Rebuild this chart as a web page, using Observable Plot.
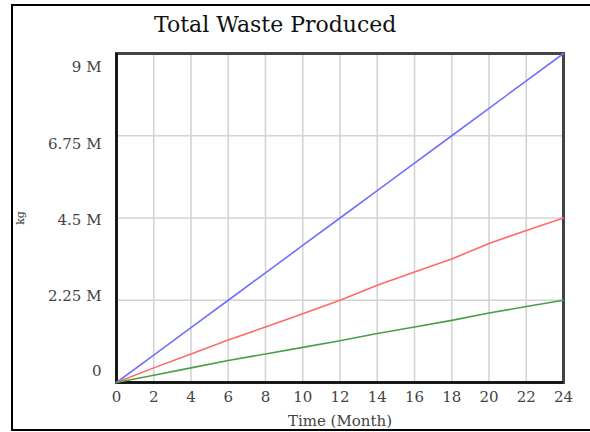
<!DOCTYPE html>
<html>
<head>
<meta charset="utf-8">
<script src="https://cdn.jsdelivr.net/npm/d3@7"></script>
<script src="https://cdn.jsdelivr.net/npm/@observablehq/plot@0.6"></script>
<style>
  body { margin: 0; background: #fff; }
  #frame { position: absolute; left: 11px; top: 4px; width: 600px; height: 427px; border: 2px solid #000; box-sizing: border-box; background: #fff; }
  #title { height: 44px; font-family: "DejaVu Serif", serif; font-size: 22px; color: #111; padding-left: 141px; line-height: 38px; box-sizing: border-box; white-space: nowrap; }
  #chart svg { display: block; }
</style>
</head>
<body>
<div id="frame">
  <div id="title">Total Waste Produced</div>
  <div id="chart"></div>
</div>
<script>
const title = "Total Waste Produced";
const xLabel = "Time (Month)";
const yLabel = "kg";
const months = [0, 2, 4, 6, 8, 10, 12, 14, 16, 18, 20, 22, 24];
const seriesNames = ["Run A", "Run B", "Run C"];
const seriesColors = ["#7070ff", "#ff6a6a", "#4a9e4a"];
const runA = [0, 0.75, 1.5, 2.25, 3.0, 3.75, 4.5, 5.25, 6.0, 6.75, 7.5, 8.25, 9.0];
const runB = [0, 0.40, 0.78, 1.16, 1.52, 1.88, 2.25, 2.66, 3.02, 3.38, 3.80, 4.16, 4.5];
const runC = [0, 0.20, 0.40, 0.60, 0.78, 0.96, 1.14, 1.34, 1.52, 1.70, 1.90, 2.08, 2.25];
const yTicks = [0, 2.25, 4.5, 6.75, 9];
const yTickLabels = ["0", "2.25 M", "4.5 M", "6.75 M", "9 M"];
const xTicks = [0, 2, 4, 6, 8, 10, 12, 14, 16, 18, 20, 22, 24];

const allValues = [runA, runB, runC];
const rows = seriesNames.flatMap((s, k) => months.map((m, i) => ({month: m, value: allValues[k][i] * 1e6, series: s})));
const yTickVals = yTicks.map(v => v * 1e6);
const labelFor = v => yTickLabels[yTickVals.indexOf(v)];
// Vensim-style label placement: each tick label nudged slightly
const labelDy = [-11, -4, 2, 8, 14];

const font = "DejaVu Serif, serif";
const plot = Plot.plot({
  width: 577,
  height: 379,
  marginLeft: 103,
  marginRight: 27,
  marginTop: 3,
  marginBottom: 47,
  style: {fontFamily: font, fontSize: "13px", color: "#333", background: "#fff"},
  x: {domain: [0, 24]},
  y: {domain: [0, 9e6]},
  color: {domain: seriesNames, range: seriesColors},
  marks: [
    Plot.gridX(xTicks, {stroke: "#d4d4d4", strokeOpacity: 1, strokeWidth: 1.6}),
    Plot.gridY(yTickVals, {stroke: "#d4d4d4", strokeOpacity: 1, strokeWidth: 1.6}),
    Plot.axisX(xTicks, {tickSize: 0, tickPadding: 9, fontSize: 15, fill: "#444", label: xLabel, labelArrow: "none", labelAnchor: "center", labelOffset: 43}),
    ...yTickVals.map((v, i) => Plot.axisY([v], {tickSize: 0, tickPadding: 15, fontSize: 15, fill: "#444", tickFormat: labelFor, dy: labelDy[i], label: null})),
    Plot.axisY([], {label: yLabel, labelArrow: "none", labelAnchor: "center", labelOffset: 100, fontSize: 11}),
    Plot.frame({stroke: "#444", strokeWidth: 3}),
    Plot.ruleX([0], {stroke: "#111", strokeWidth: 2.5}),
    Plot.ruleY([0], {stroke: "#111", strokeWidth: 2.5}),
    Plot.line(rows, {x: "month", y: "value", z: "series", stroke: "series", strokeWidth: 1.6})
  ]
});
document.getElementById("chart").appendChild(plot);
</script>
</body>
</html>
